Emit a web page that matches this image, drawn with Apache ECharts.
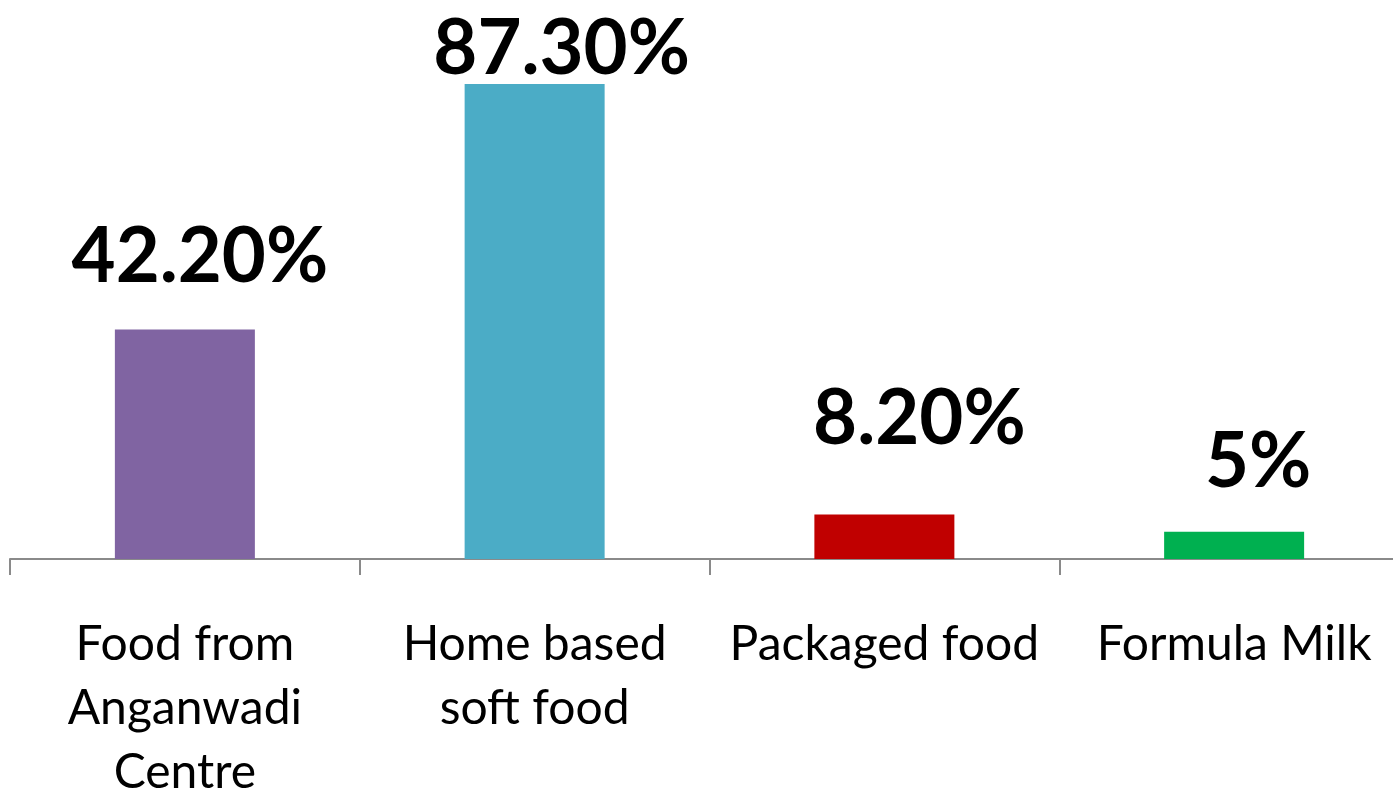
<!DOCTYPE html>
<html>
<head>
<meta charset="utf-8">
<script src="https://cdn.jsdelivr.net/npm/echarts@6/dist/echarts.min.js"></script>
<style>
html,body{margin:0;padding:0;background:#fff;}
#chart{width:1393px;height:793px;}
</style>
</head>
<body>
<div id="chart"></div>
<script>
const categories = ['Food from\nAnganwadi\nCentre', 'Home based\nsoft food', 'Packaged food', 'Formula Milk'];
const values = [42.2, 87.3, 8.2, 5];
const valueLabels = ['42.20%', '87.30%', '8.20%', '5%'];
const barColors = ['#8064A2', '#4BACC6', '#C00000', '#00B050'];
const labelOffsets = [[15, -34], [27, 3], [35, -57], [24, -31]];

const chart = echarts.init(document.getElementById('chart'));
chart.setOption({
  animation: false,
  grid: { left: 10, width: 1399, top: 15, bottom: 234, containLabel: false, outerBoundsMode: 'none' },
  xAxis: {
    type: 'category',
    data: categories,
    axisLine: { show: true, lineStyle: { color: '#8a8a8a', width: 2 } },
    axisTick: { show: true, length: 16, lineStyle: { color: '#8a8a8a', width: 2 } },
    axisLabel: {
      interval: 0,
      margin: 54,
      fontFamily: 'Lato',
      fontSize: 48,
      lineHeight: 64,
      color: '#000'
    }
  },
  yAxis: { type: 'value', min: 0, max: 100, show: false, splitLine: { show: false } },
  series: [{
    type: 'bar',
    barWidth: 140,
    data: values.map((v, i) => ({
      value: v,
      itemStyle: { color: barColors[i] },
      label: { offset: labelOffsets[i] }
    })),
    label: {
      show: true,
      position: 'top',
      distance: 0,
      formatter: p => valueLabels[p.dataIndex],
      fontFamily: 'Lato',
      fontWeight: 'bold',
      fontSize: 76,
      lineHeight: 76,
      color: '#000'
    }
  }]
});
</script>
</body>
</html>
